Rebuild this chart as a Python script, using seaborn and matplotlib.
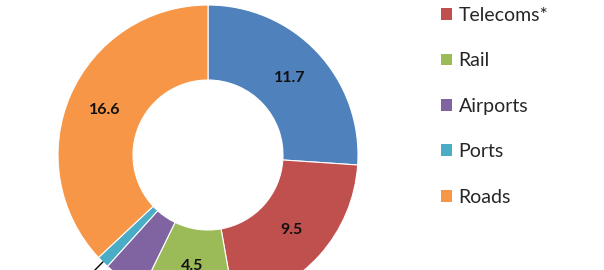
import numpy as np
import matplotlib
matplotlib.use("Agg")
import matplotlib.pyplot as plt
import seaborn as sns
from matplotlib.patches import Patch

categories = ["Power", "Telecoms*", "Rail", "Airports", "Ports", "Roads"]
values = [11.7, 9.5, 4.5, 2.0, 0.6, 16.6]
labels = ["11.7", "9.5", "4.5", "", "", "16.6"]
colors = ["#4F81BD", "#C0504D", "#9BBB59", "#8064A2", "#4BACC6", "#F79646"]
legend_cats = ["Telecoms*", "Rail", "Airports", "Ports", "Roads"]

sns.set_theme(style="white")
plt.rcParams["font.family"] = ["Lato", "DejaVu Sans"]

W, H = 604, 270
fig = plt.figure(figsize=(W / 100, H / 100), dpi=100)
cx, cy, R = 208, 115, 150
ax = fig.add_axes([(cx - R) / W, (cy - R) / H, 2 * R / W, 2 * R / H])

wedges, _ = ax.pie(values, colors=colors, startangle=90, counterclock=False,
                   radius=1.0, wedgeprops=dict(width=0.5, edgecolor="white", linewidth=0.8))
ax.set_xlim(-1, 1)
ax.set_ylim(-1, 1)
ax.set_aspect("equal")
ax.axis("off")
for w, lab in zip(wedges, labels):
    ang = np.deg2rad((w.theta1 + w.theta2) / 2)
    if lab:
        ax.text(0.75 * np.cos(ang), 0.75 * np.sin(ang), lab, ha="center", va="center",
                fontsize=11.5, fontweight="bold", color="#111111", clip_on=False)

# leader line for the small Ports slice
wp = wedges[categories.index("Ports")]
ang = np.deg2rad((wp.theta1 + wp.theta2) / 2)
ax.plot([1.0 * np.cos(ang), 1.25 * np.cos(ang)], [1.0 * np.sin(ang), 1.25 * np.sin(ang)],
        color="black", lw=1, clip_on=False)

handles = [Patch(facecolor=colors[categories.index(c)], edgecolor="none") for c in legend_cats]
fig.legend(handles, legend_cats, loc="upper left", bbox_to_anchor=(441 / W, 1 - 7 / H),
           frameon=False, fontsize=14, handlelength=0.55, handleheight=0.55,
           handletextpad=0.35, labelspacing=1.46, borderaxespad=0, borderpad=0)

fig.savefig("out.png", dpi=100, facecolor="white")
